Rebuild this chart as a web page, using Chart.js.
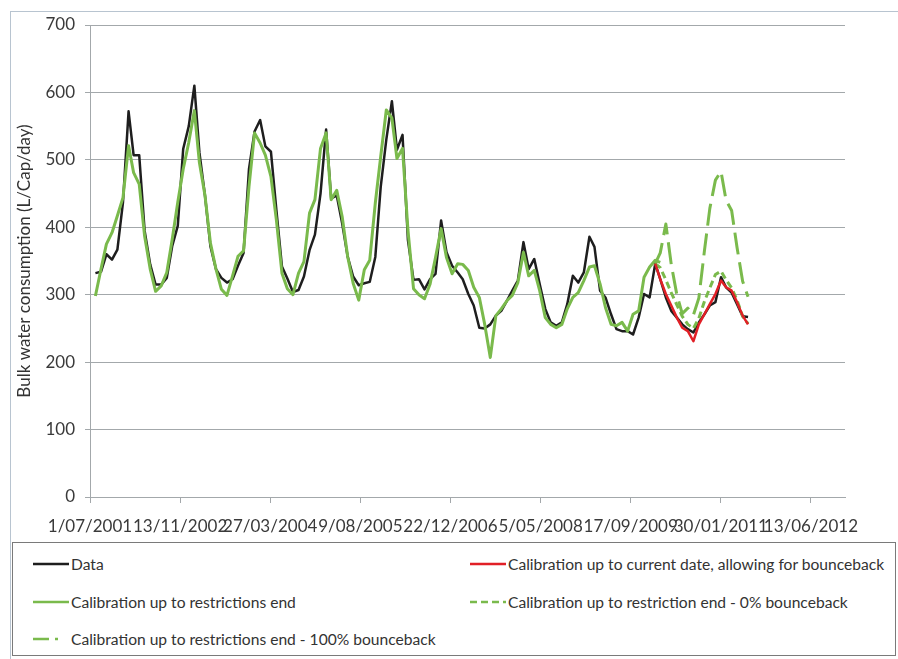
<!DOCTYPE html>
<html>
<head>
<meta charset="utf-8">
<script src="https://cdn.jsdelivr.net/npm/chart.js@4.4.1/dist/chart.umd.min.js"></script>
<style>
html,body{margin:0;padding:0;background:#fff;}
body{width:898px;height:659px;position:relative;overflow:hidden;font-family:Lato,"Noto Sans",sans-serif;}
#frame{position:absolute;left:10px;top:11px;width:900px;height:700px;border:1px solid #b8c4d0;box-sizing:border-box;}
#wrap{position:absolute;left:0;top:0;width:898px;height:540px;}
#legend{position:absolute;left:12px;top:542px;width:884px;height:114px;border:1px solid #7a7a7a;box-sizing:border-box;background:#fff;}
.item{position:absolute;height:20px;display:flex;align-items:center;font-size:15.6px;color:#333;white-space:nowrap;}
.item svg{margin-right:2px;flex:none;}
</style>
</head>
<body>
<div id="frame"></div>
<div id="wrap"><canvas id="c"></canvas></div>
<div id="legend"></div>
<script>
// ---- categories: month-end observations, Jul 2001 .. Jun 2011 ----
const START_YEAR = 2001, START_MONTH = 7, N_MONTHS = 120;
const months = [];
for (let i = 0; i < N_MONTHS; i++) {
  const d = new Date(Date.UTC(START_YEAR, START_MONTH - 1 + i + 1, 0)); // last day of month
  months.push(d.toISOString().slice(0, 10));
}

// ---- tick labels (date axis, major unit 500 days) ----
const xTickDays   = [0,500,1000,1500,2000,2500,3000,3500,4000];
const xTickLabels = ['1/07/2001','13/11/2002','27/03/2004','9/08/2005','22/12/2006','5/05/2008','17/09/2009','30/01/2011','13/06/2012'];
const X_AXIS_MAX_DAYS = 4189;
const yTickValues = [0,100,200,300,400,500,600,700];

// ---- series values (L/Cap/day) ----
const dataSeries = [
  332,334,360,352,367,437,572,507,507,395,345,315,
  315,325,372,402,516,550,610,511,447,372,338,325,
  318,323,343,362,486,542,559,520,512,426,342,324,
  304,307,327,366,389,450,545,443,447,406,356,327,
  314,317,319,356,460,530,587,515,537,381,322,323,
  308,323,331,410,363,343,333,323,301,284,251,250,
  256,269,276,291,306,321,378,338,353,316,279,259,
  254,259,286,328,318,333,386,371,306,296,271,249,
  246,246,241,266,301,296,346,323,296,276,266,256,
  249,244,259,271,284,289,326,311,303,286,268,267
];
// calibration up to restrictions end: months 0..103
const calibRestr = [
  298,338,375,392,417,444,521,481,464,387,338,305,
  313,333,382,437,486,526,573,496,447,377,338,308,
  299,328,357,365,460,540,525,507,475,411,332,309,
  300,332,349,421,441,517,540,441,455,416,356,317,
  292,337,351,436,505,574,562,502,517,396,309,300,
  294,316,355,398,355,331,346,345,336,311,296,256,
  207,269,279,291,299,318,363,328,336,306,266,256,
  251,256,279,296,303,321,341,343,316,281,256,254,
  259,246,271,276,326,341,351,348
];
// scenario series start at month index 102
const SCEN_START = 102;
const calibCurrent = [346,323,301,284,266,251,246,231,256,271,286,301,321,311,306,289,269,256];
const bounce0      = [346,340,322,303,285,268,256,250,265,290,310,330,335,322,310,292,268,257];
const bounce100    = [346,362,405,345,300,272,280,270,295,365,428,470,483,440,425,370,320,297];

const DAY = 86400000;
const AXIS_START = Date.UTC(START_YEAR, START_MONTH - 1, 1);
const dayOf = s => (Date.parse(s) - AXIS_START) / DAY;
const toPts = (vals, offset) => vals.map((v, i) => ({x: dayOf(months[offset + i]), y: v}));

const BLACK = '#1e1e1e', GREEN = '#7aba4c', RED = '#e11f26';

const datasets = [
  {label:'Data', data: toPts(dataSeries,0), borderColor:BLACK, borderWidth:2.5, order:5, legend:{col:0,row:0,dash:null}},
  {label:'Calibration up to restrictions end', data: toPts(calibRestr,0), borderColor:GREEN, borderWidth:3, order:4, legend:{col:0,row:1,dash:null}},
  {label:'Calibration up to restrictions end - 100% bounceback', data: toPts(bounce100,SCEN_START), borderColor:GREEN, borderWidth:3, borderDash:[22,8], order:3, legend:{col:0,row:2,dash:'16 6 3 20'}},
  {label:'Calibration up to restriction end - 0% bounceback', data: toPts(bounce0,SCEN_START), borderColor:GREEN, borderWidth:3, borderDash:[7,4], order:2, legend:{col:1,row:1,dash:'7 4'}},
  {label:'Calibration up to current date, allowing for bounceback', data: toPts(calibCurrent,SCEN_START), borderColor:RED, borderWidth:2.5, order:1, legend:{col:1,row:0,dash:null}}
];
datasets.forEach(d => { d.pointRadius = 0; d.fill = false; d.tension = 0; d.borderJoinStyle = 'round'; });

const GRID = '#a3a8ab';
const TICK_FONT = {family:'Lato', size:17};

new Chart(document.getElementById('c'), {
  type: 'line',
  data: { datasets },
  options: {
    responsive: true, maintainAspectRatio: false, animation: false, devicePixelRatio: 1,
    layout: { padding: {top:25, right:53, bottom:0, left:0} },
    plugins: { legend:{display:false}, tooltip:{enabled:false} },
    scales: {
      x: {
        type: 'linear', min: 0, max: X_AXIS_MAX_DAYS, bounds: 'data',
        afterBuildTicks: s => { s.ticks = xTickDays.map(v => ({value: v})); },
        afterFit: s => { s.height = 43; },
        grid: { drawOnChartArea:false, drawTicks:true, tickLength:6, color:GRID },
        border: { color: GRID },
        ticks: {
          autoSkip: false, maxRotation: 0, minRotation: 0,
          padding: 13, color:'#3a3a3a', font: TICK_FONT,
          callback: (v, i) => xTickLabels[i]
        }
      },
      y: {
        min: yTickValues[0], max: yTickValues[yTickValues.length-1],
        afterBuildTicks: s => { s.ticks = yTickValues.map(v => ({value: v})); },
        afterFit: s => { s.width = 90; },
        grid: { color: GRID, tickLength:5, lineWidth:1 },
        border: { color: GRID },
        ticks: { padding: 10, color:'#3a3a3a', font: TICK_FONT },
        title: { display:true, text:'Bulk water consumption (L/Cap/day)', color:'#333', font:{family:'Lato', size:17}, padding:{top:14,bottom:0} }
      }
    }
  }
});

// ---- legend (HTML, two columns) ----
const legend = document.getElementById('legend');
const colX = [20, 457], rowY = [11, 49, 86];
datasets.forEach(d => {
  const it = document.createElement('div');
  it.className = 'item';
  it.style.left = colX[d.legend.col] + 'px';
  it.style.top = rowY[d.legend.row] + 'px';
  const dash = d.legend.dash ? ` stroke-dasharray="${d.legend.dash}"` : '';
  it.innerHTML = `<svg width="36" height="6"><line x1="0" y1="3" x2="36" y2="3" stroke="${d.borderColor}" stroke-width="2.5"${dash}/></svg><span>${d.label}</span>`;
  legend.appendChild(it);
});
</script>
</body>
</html>
